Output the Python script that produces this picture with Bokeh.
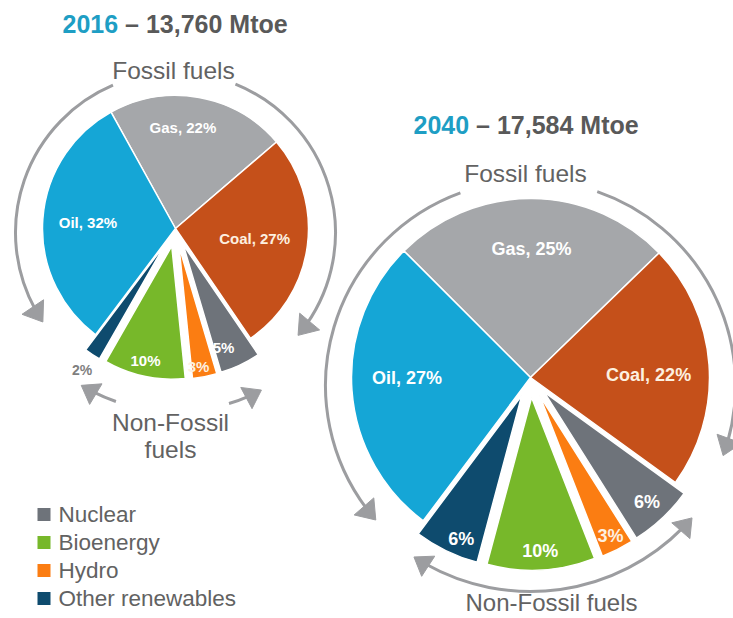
import math
from bokeh.plotting import figure
from bokeh.models import Range1d
from bokeh.embed import file_html
from bokeh.resources import INLINE
from bokeh.core.properties import value

# ---------------- data ----------------
sources = ["Gas", "Coal", "Nuclear", "Hydro", "Bioenergy", "Other renewables", "Oil"]
is_fossil = [True, True, False, False, False, False, True]
share_2016 = [22, 27, 5, 3, 10, 2, 32]
share_2040 = [25, 22, 6, 3, 10, 6, 27]
years = ["2016", "2040"]
totals = ["13,760 Mtoe", "17,584 Mtoe"]
legend_items = ["Nuclear", "Bioenergy", "Hydro", "Other renewables"]

colors = {
    "Gas": "#A5A7AA",
    "Coal": "#C5501A",
    "Nuclear": "#6E737A",
    "Hydro": "#FB7D12",
    "Bioenergy": "#77B82A",
    "Other renewables": "#0E4B6E",
    "Oil": "#15A6D6",
}
ARROW = "#9C9DA0"
TEXT_GRAY = "#626262"
TITLE_GRAY = "#595959"
TEAL = "#1E9EC4"
FONT = "Liberation Sans"

W, H = 733, 618
p = figure(width=W, height=H, output_backend="svg", toolbar_location=None,
           x_range=Range1d(0, W), y_range=Range1d(-H, 0),
           x_axis_location=None, y_axis_location=None, min_border=0,
           outline_line_color=None, background_fill_color="white")
p.grid.visible = False


def Y(y):
    return -y


def pt(cx, cy, r, th):
    t = math.radians(th)
    return cx + r * math.sin(t), cy - r * math.cos(t)


def draw_pie(cx, cy, r, shares, start_th, explode, nf_scale, lab_r, fsize, small_color):
    tot = float(sum(shares))
    th = start_th
    for i, (name, v) in enumerate(zip(sources, shares)):
        span = v / tot * 360.0
        t1, t2 = th, th + span
        mid = (t1 + t2) / 2
        ox, oy = cx, cy
        rr = r
        if not is_fossil[i]:
            ox, oy = pt(cx, cy, explode, mid)
            rr = r * nf_scale
        p.wedge(x=[ox], y=[Y(oy)], radius=rr,
                start_angle=math.radians(90 - t2), end_angle=math.radians(90 - t1),
                fill_color=colors[name], line_color="white", line_width=1.5)
        lab = f"{name}, {v}%" if is_fossil[i] else f"{v}%"
        la = mid + lab_r[i][1]
        lx, ly = pt(ox, oy, r * lab_r[i][0], la)
        col = "white"
        if name in ("Coal", "Hydro"):
            col = "#FDF0E0"
        if lab_r[i][0] > 1:
            col = small_color
        p.text(x=[lx], y=[Y(ly)], text=[lab], text_align="center", text_baseline="middle",
               text_font=value(FONT), text_font_style="bold",
               text_font_size=f"{fsize if lab_r[i][0] <= 1 else fsize - 1}px", text_color=col)
        th = t2


def arrow_arc(cx, cy, R, th_from, th_tip, L=18, Wd=26, head=True, head_start=False):
    sign = 1 if th_tip > th_from else -1
    th_end = th_tip - sign * math.degrees(L / R) * 0.8 if head else th_tip
    th_beg = th_from
    if head_start:
        th_beg = th_from + sign * math.degrees(L / R) * 0.8
    a1 = math.radians(90 - th_beg)
    a2 = math.radians(90 - th_end)
    s, e = (a2, a1) if a2 < a1 else (a1, a2)
    p.arc(x=[cx], y=[Y(cy)], radius=R, start_angle=s, end_angle=e,
          direction="anticlock", line_color=ARROW, line_width=3)

    def tri(th, sg):
        t = math.radians(th)
        tx, ty = pt(cx, cy, R, th)
        dx, dy = sg * math.cos(t), sg * math.sin(t)
        bx, by = tx - L * dx, ty - L * dy
        nx, ny = -dy, dx
        xs = [tx, bx + nx * Wd / 2, bx - nx * Wd / 2]
        ys = [Y(ty), Y(by + ny * Wd / 2), Y(by - ny * Wd / 2)]
        p.patch(x=xs, y=ys, fill_color=ARROW, line_color=ARROW, line_width=1)

    if head:
        tri(th_tip, sign)
    if head_start:
        tri(th_from, -sign)


def txt(x, y, s, size, color=TEXT_GRAY, style="normal", align="center"):
    p.text(x=[x], y=[Y(y)], text=[s], text_align=align, text_baseline="middle",
           text_font=value(FONT), text_font_style=style,
           text_font_size=f"{size}px", text_color=color)


# ---------------- pie 2016 ----------------
draw_pie(175, 228, 133, share_2016, -29, 18, 1.0,
         [(0.76, -6), (0.6, 0), (0.83, 4), (0.92, 2), (0.88, 1), (1.14, 0), (0.66, 0)],
         15, "#7F7F7F")
arrow_arc(175, 232, 160, -23, -124)
arrow_arc(175, 232, 160, 22, 130)
arrow_arc(175, 228, 183, 199, 211, L=17, Wd=24)
arrow_arc(175, 228, 183, 163, 152, L=17, Wd=24)
txt(173, 70, "Fossil fuels", 24.5)
txt(170, 422, "Non-Fossil", 24.5)
txt(170, 449, "fuels", 24.5)

# ---------------- pie 2040 ----------------
draw_pie(530, 377, 179, share_2040, -45, 20, 0.965,
         [(0.72, 0), (0.66, 3), (0.84, 0), (0.88, 0), (0.86, 0), (0.87, -3), (0.69, 4)],
         18, "white")
arrow_arc(530, 385, 205, -20, -131)
arrow_arc(530, 385, 205, 19, 110)
arrow_arc(530, 377, 214, 131, 213, L=17, Wd=24, head=True, head_start=True)
txt(525, 173, "Fossil fuels", 24.5)
txt(551, 602, "Non-Fossil fuels", 24)

# ---------------- titles ----------------
title_pos = [(62, 23), (413, 124)]
for (yr, tot), (tx, ty) in zip(zip(years, totals), title_pos):
    txt(tx, ty, yr, 25, color=TEAL, style="bold", align="left")
    txt(tx + 0.556 * 4 * 25, ty, "\u00a0\u2013\u00a0" + tot, 25, color=TITLE_GRAY, style="bold", align="left")

# ---------------- legend ----------------
leg_y = [514, 542, 570, 598]
p.scatter(x=[43.5] * len(legend_items), y=[Y(v) for v in leg_y], marker="square", size=13,
          fill_color=[colors[n] for n in legend_items], line_color=None)
p.text(x=[58] * len(legend_items), y=[Y(v) for v in leg_y], text=legend_items,
       text_align="left", text_baseline="middle", text_font=value(FONT),
       text_font_size="22.5px", text_color=TEXT_GRAY)

open("out.html", "w").write(file_html(p, INLINE))
